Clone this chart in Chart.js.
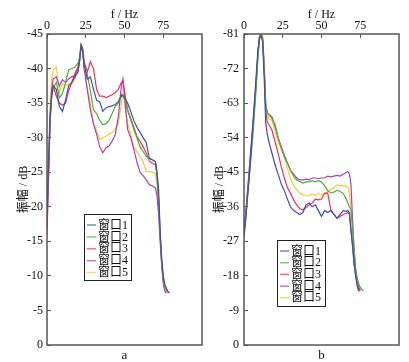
<!DOCTYPE html>
<html lang="zh">
<head>
<meta charset="UTF-8">
<title>振幅谱</title>
<script src="https://cdn.jsdelivr.net/npm/chart.js"></script>
<style>
    body { margin: 0; background: #fff; }
    #wrap { position: relative; width: 409px; height: 362px; }
    canvas { position: absolute; top: 0; }
    #chartA { left: 0; }
    #chartB { left: 204px; }
</style>
</head>
<body>
<div id="wrap">
    <canvas id="chartA" width="204" height="362"></canvas>
    <canvas id="chartB" width="205" height="362"></canvas>
</div>
<script>
// window names and colours
const windowNames = ['窗口1', '窗口2', '窗口3', '窗口4', '窗口5'];
const windowColors = ['#3f4fa8', '#4caf3a', '#ee2f55', '#b03fb0', '#f5c93f'];

// panel a : frequency (Hz) and amplitude (dB)
const freqA = [0,1,2,3,4,6,8,10,12,14,16,18,20,21,22,23,24,26,28,30,32,34,36,38,40,42,44,46,48,49,50,52,54,56,58,60,62,64,66,68,70,71,72,73,74,75,76,77,78,79];
const a1 = [-19,-26,-33,-36,-37.5,-37,-34.5,-33.8,-35.5,-37.5,-38,-38.8,-39.5,-41,-43.3,-42.5,-40.5,-38.5,-38.8,-37,-35.4,-35.2,-33.8,-34.3,-34.5,-34.6,-34.8,-35.2,-36.2,-36,-35.8,-35,-33.8,-32.5,-31.5,-30.8,-30,-29.3,-27,-26.8,-26.5,-25,-22.5,-16.5,-12.5,-10,-8.8,-8.2,-7.8,-7.5];
const a2 = [-20,-27,-33,-36,-37,-38,-35.8,-36.4,-38,-39.8,-40,-40.2,-40.8,-41.5,-43.3,-42.5,-40,-39.2,-36.8,-34,-33.5,-32.5,-31.9,-32,-32.5,-33.5,-34.5,-35,-36,-36.2,-36,-34,-32.6,-31.2,-30,-28.7,-28,-27.3,-27,-26.8,-26.5,-24.5,-21,-16,-12,-9.5,-8.5,-8,-7.7,null];
const a3 = [-16,-24,-32,-36,-37.5,-36,-35,-34.7,-35,-36.8,-38,-39.3,-40.2,-41.5,-43.5,-43,-41,-39.5,-41,-40,-37,-36,-36,-35.8,-36,-36.2,-36.5,-37,-38,-38.2,-36.7,-34,-32.8,-31.5,-30.2,-29.5,-28.7,-27.8,-26.6,-26.3,-26.1,-24.5,-21,-16,-12,-9.5,-8.5,-8,-7.6,null];
const a4 = [-17,-25,-33,-37,-38.5,-38.8,-37.5,-38.4,-38,-38.5,-38.8,-39,-40,-41,-43.2,-42.8,-40,-37,-34,-32,-30.5,-28.7,-27.8,-28.5,-28.8,-29.5,-30.4,-33,-37.5,-38.5,-36,-31.2,-30,-28.3,-26.5,-25,-24.5,-23.9,-23.2,-23,-22.7,-21.5,-19,-15,-11.5,-9,-7.8,-7.5,null,null];
const a5 = [-18,-27,-35,-38.5,-39.8,-40.2,-36.5,-37.8,-37.5,-37.8,-37.8,-38.5,-40,-41.5,-43.2,-42.5,-40,-37,-35,-32.1,-31,-29.7,-30,-30.2,-30.5,-30.8,-31.2,-32,-35,-36.5,-35,-32.1,-30.5,-28.7,-28,-27.3,-26.5,-25.1,-25.1,-25,-24.8,-23,-20,-15.5,-11.5,-9,-8,-7.5,null,null];

// panel b
const freqB = [0,1,2,3,4,5,6,7,8,9,10,11,12,13,14,15,16,18,20,22,24,26,28,30,32,34,36,38,40,42,44,46,48,50,52,54,56,58,60,62,64,66,67,68,69,70,71,72,73,74,75,76,77];
const b1 = [-28,-32,-37,-42,-47,-53,-59,-65,-71,-77,-80,-80.5,-79,-70,-58,-55,-53,-50,-47,-44.5,-42,-40.2,-38,-36,-35,-34.5,-34,-34.5,-36.5,-37,-36,-36.5,-35,-33.5,-35,-34.5,-35,-34,-33,-34,-35,-34.8,-35,-34.5,-30,-26,-21,-18,-15.5,-14,null,null,null];
const b2 = [-29,-33,-37.5,-42,-46.5,-51,-56,-62,-68,-75,-79.5,-80.8,-80,-73,-63,-60.5,-60,-59,-57.5,-54,-51.5,-49,-47.4,-45.5,-43.9,-43,-42.6,-42.2,-42.5,-42.5,-42.8,-42.5,-42.8,-42.5,-41.5,-40.2,-39.6,-39.8,-40.3,-40,-39.5,-38,-37,-36,-35.2,-31,-25,-20,-17.5,-16,-15,-14.5,-14];
const b3 = [-29,-33,-38,-43,-48,-53,-58,-63,-69,-76,-80.5,-81,-80,-72,-61,-58,-57.5,-56,-53,-50,-46.5,-43.5,-41,-39.5,-37.8,-36.5,-35.5,-35.2,-35.8,-36.5,-37,-38,-37.8,-38,-39.5,-39.6,-35.2,-34,-33,-33.5,-34,-34.3,-34.5,-34,-30,-26,-21.5,-18.5,-16,-14.5,-14,null,null];
const b4 = [-30,-34,-39,-44,-49,-54,-59,-64,-70,-76,-80,-80.5,-79.5,-72,-62,-60.5,-60,-59.5,-57,-54,-51.7,-49.5,-47.4,-45.5,-44.5,-43.5,-43,-43,-43.2,-43,-43.5,-43.5,-43.3,-43.5,-43.5,-44,-43.8,-44,-44.2,-44,-44.5,-45,-45.2,-44.5,-42,-33,-25,-19.5,-16.5,-15,-14.3,null,null];
const b5 = [-29,-33,-38,-43,-48,-53,-58,-63,-68.5,-75,-80,-81,-80.5,-74,-63,-60,-59,-58.5,-56,-53,-51,-49,-46,-43.5,-41.5,-40.4,-39.5,-39.1,-39,-39,-39.2,-39,-39.5,-39,-39.5,-40,-40.4,-41,-41.7,-41.5,-41.5,-41.3,-41,-39.5,-36,-29,-23,-18.5,-16,-14.8,-14.2,null,null];

const serif = '"Liberation Serif", "Noto Sans CJK SC", serif';

function makeDatasets(freq, series) {
    return series.map((vals, i) => ({
        label: windowNames[i],
        data: freq.map((f, j) => ({ x: f, y: vals[j] })).filter(p => p.y !== null),
        borderColor: windowColors[i],
        borderWidth: 1.2,
        pointRadius: 0,
        tension: 0,
        fill: false
    }));
}

// box around the plot area
const framePlugin = {
    id: 'frame',
    afterDatasetsDraw(chart) {
        const a = chart.chartArea, ctx = chart.ctx;
        ctx.save();
        ctx.strokeStyle = '#555';
        ctx.lineWidth = 1.5;
        ctx.strokeRect(a.left, a.top, a.right - a.left, a.bottom - a.top);
        ctx.restore();
    }
};

// small boxed legend inside the plot
const boxLegend = {
    id: 'boxLegend',
    afterDraw(chart, args, opts) {
        const ctx = chart.ctx;
        ctx.save();
        ctx.fillStyle = '#fff';
        ctx.fillRect(opts.x, opts.y, opts.w, opts.h);
        ctx.strokeStyle = '#222';
        ctx.lineWidth = 1;
        ctx.strokeRect(opts.x + 0.5, opts.y + 0.5, opts.w, opts.h);
        ctx.font = '12px ' + serif;
        ctx.textBaseline = 'middle';
        chart.data.datasets.forEach((ds, i) => {
            let cy = opts.first + i * opts.row;
            ctx.strokeStyle = ds.borderColor;
            ctx.globalAlpha = 0.7;
            ctx.lineWidth = 1.5;
            ctx.beginPath();
            ctx.moveTo(opts.x + 3, cy);
            ctx.lineTo(opts.x + 12, cy);
            ctx.stroke();
            ctx.globalAlpha = 1;
            ctx.fillStyle = '#111';
            ctx.fillText(ds.label, opts.x + 14, cy + 0.5);
        });
        ctx.restore();
    }
};

function makeChart(id, freq, series, yMin, yStep, panel, lay) {
    new Chart(document.getElementById(id), {
        type: 'line',
        data: { datasets: makeDatasets(freq, series) },
        plugins: [framePlugin, boxLegend],
        options: {
            responsive: false,
            animation: false,
            devicePixelRatio: 1,
            layout: { padding: { left: 0, right: lay.padRight, top: 0, bottom: 0 } },
            plugins: {
                legend: { display: false },
                tooltip: { enabled: false },
                boxLegend: lay.legend
            },
            scales: {
                x: {
                    type: 'linear', position: 'top', min: 0, max: 100,
                    ticks: { stepSize: 25, padding: 5, color: '#111', font: { family: serif, size: 12 },
                             callback: v => v === 100 ? null : v },
                    grid: { drawOnChartArea: false, tickLength: -4, color: '#555' },
                    border: { display: false },
                    title: { display: true, text: 'f / Hz', color: '#111', font: { family: serif, size: 12 },
                             padding: { top: 8, bottom: 0 } },
                    afterFit: s => { s.height = 34; }
                },
                xb: {
                    type: 'linear', position: 'bottom', min: 0, max: 100,
                    ticks: { display: false },
                    grid: { display: false },
                    border: { display: false },
                    title: { display: true, text: panel, color: '#111', font: { family: serif, size: 13, lineHeight: 1 },
                             padding: 0 },
                    afterFit: s => { s.height = 17; }
                },
                y: {
                    type: 'linear', position: 'left', min: yMin, max: 0, reverse: true,
                    ticks: { stepSize: yStep, padding: lay.tickPad, color: '#111', font: { family: serif, size: 12 } },
                    grid: { drawOnChartArea: false, tickLength: -4, color: '#555' },
                    border: { display: false },
                    title: { display: true, text: '振幅 / dB', color: '#111', font: { family: serif, size: 12 },
                             padding: { top: lay.titlePad, bottom: 0 } },
                    afterFit: s => { s.width = lay.yWidth; }
                }
            }
        }
    });
}

makeChart('chartA', freqA, [a1, a2, a3, a4, a5], -45, 5, 'a', {
    padRight: 2, yWidth: 47, tickPad: 8, titlePad: 17,
    legend: { x: 84, y: 214, w: 47, h: 66, first: 225, row: 11.9 }
});
makeChart('chartB', freqB, [b1, b2, b3, b4, b5], -81, 9, 'b', {
    padRight: 10, yWidth: 40, tickPad: 9, titlePad: 9,
    legend: { x: 73, y: 240, w: 48, h: 66, first: 251, row: 11.7 }
});
</script>
</body>
</html>
